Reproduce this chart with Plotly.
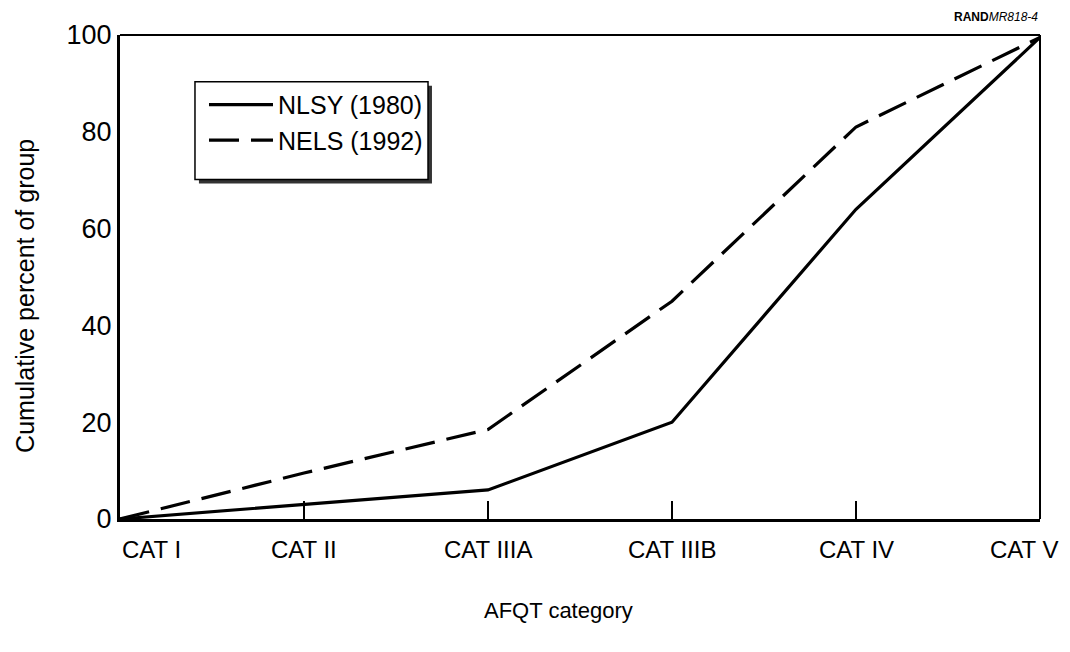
import plotly.graph_objects as go

categories = ["CAT I", "CAT II", "CAT IIIA", "CAT IIIB", "CAT IV", "CAT V"]
nlsy_1980 = [0, 3, 6, 20, 64, 99.5]
nels_1992 = [0, 9.5, 18.5, 45, 81, 99.5]
y_ticks = [0, 20, 40, 60, 80, 100]

FONT = "Liberation Sans, Arial, Helvetica, sans-serif"
idx = list(range(len(categories)))

fig = go.Figure()
fig.add_trace(go.Scatter(x=idx, y=nlsy_1980, mode="lines", name="NLSY (1980)",
                         line=dict(color="black", width=3.2)))
fig.add_trace(go.Scatter(x=idx, y=nels_1992, mode="lines", name="NELS (1992)",
                         line=dict(color="black", width=3.2, dash="30px,12px")))

annotations = []
for i, c in enumerate(categories):
    if i == 0:
        xa, xs = "left", 0
    elif i == len(categories) - 1:
        xa, xs = "right", 20
    else:
        xa, xs = "center", 0
    annotations.append(dict(x=i, y=0, xref="x", yref="paper", text=c, showarrow=False,
                            xanchor=xa, xshift=xs, yanchor="top",
                            yshift=-15, font=dict(size=24, family=FONT, color="black")))
# axis titles
annotations.append(dict(x=0.477, y=0, xref="paper", yref="paper", xanchor="center", yanchor="middle",
                        yshift=-91, showarrow=False, text="AFQT category",
                        font=dict(size=22, family=FONT, color="black")))
annotations.append(dict(x=0, y=0.461, xref="paper", yref="paper", xanchor="center", yanchor="middle",
                        xshift=-95, showarrow=False, textangle=-90, text="Cumulative percent of group",
                        font=dict(size=25, family=FONT, color="black")))
annotations.append(dict(x=1, y=1, xref="paper", yref="paper", xanchor="right", yanchor="bottom",
                        yshift=9, showarrow=False,
                        text="<b>RAND</b><i>MR818-4</i>", font=dict(size=12, family=FONT, color="black")))

shapes = [
    # legend shadow
    dict(type="rect", xref="paper", yref="paper", x0=0.0858, x1=0.3391, y0=0.6934, y1=0.8951,
         fillcolor="#333", line=dict(width=0), layer="above"),
    # legend box
    dict(type="rect", xref="paper", yref="paper", x0=0.0815, x1=0.3348, y0=0.7016, y1=0.9033,
         fillcolor="white", line=dict(color="black", width=1.5), layer="above"),
    # thinner top and right frame lines
    dict(type="line", xref="paper", yref="paper", x0=0, x1=1, y0=1, y1=1,
         line=dict(color="black", width=2)),
    dict(type="line", xref="paper", yref="paper", x0=1, x1=1, y0=0, y1=1,
         line=dict(color="black", width=2)),
]

fig.update_layout(
    width=1054, height=636,
    margin=dict(l=112, r=22, t=25, b=125),
    paper_bgcolor="white", plot_bgcolor="white",
    font=dict(family=FONT, size=24, color="black"),
    showlegend=True,
    legend=dict(x=0.0913, y=0.903, xanchor="left", yanchor="top",
                bgcolor="rgba(0,0,0,0)", borderwidth=0,
                font=dict(size=25, family=FONT, color="black"), itemwidth=64,
                tracegroupgap=0),
    annotations=annotations,
    shapes=shapes,
    xaxis=dict(range=[0, 5], tickvals=idx, showticklabels=False,
               ticks="inside", ticklen=18, tickwidth=1.5, tickcolor="black",
               showgrid=False, zeroline=False, showline=True, linecolor="black",
               linewidth=3, mirror=False),
    yaxis=dict(range=[0, 100], tickvals=y_ticks, ticks="", showgrid=False, zeroline=False,
               showline=True, linecolor="black", linewidth=3, mirror=False,
               tickfont=dict(size=27)),
)

fig.write_html("out.html")
